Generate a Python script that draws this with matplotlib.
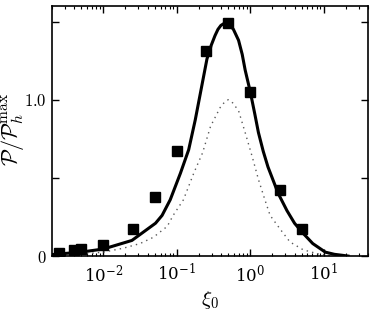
import numpy as np
import matplotlib
matplotlib.use("Agg")
import matplotlib.pyplot as plt
from matplotlib.ticker import FixedLocator, FixedFormatter, LogLocator, NullFormatter

plt.rcParams["mathtext.fontset"] = "cm"
plt.rcParams["font.family"] = "serif"
plt.rcParams["font.serif"] = ["DejaVu Serif"]

# measured points (squares)
xi_data = [0.0025, 0.004, 0.005, 0.01, 0.025, 0.05, 0.1, 0.25, 0.5, 1.0, 2.5, 5.0]
p_data = [0.02, 0.04, 0.045, 0.07, 0.17, 0.38, 0.67, 1.31, 1.49, 1.05, 0.42, 0.17]

# solid model curve
xi_full = [0.00204, 0.0049, 0.01, 0.0245, 0.0513, 0.063, 0.0813, 0.112, 0.145,
           0.178, 0.219, 0.257, 0.295, 0.331, 0.363, 0.398, 0.447, 0.501,
           0.589, 0.692, 0.776, 0.851, 1.0, 1.15, 1.29, 1.5,
           1.74, 2.40, 3.16, 4.0, 5.13, 7.08, 10.5, 14.0, 17.8, 21.4]
p_full = [0.010, 0.025, 0.045, 0.10, 0.21, 0.26, 0.36, 0.53, 0.68,
          0.87, 1.09, 1.26, 1.35, 1.41, 1.45, 1.475, 1.49, 1.49,
          1.45, 1.38, 1.29, 1.19, 1.05, 0.91, 0.79, 0.67,
          0.57, 0.40, 0.29, 0.21, 0.15, 0.08, 0.025, 0.011, 0.005, 0.0]

# dotted curve
xi_dot = [0.005, 0.01, 0.0186, 0.0316, 0.0479, 0.0741, 0.0891, 0.123, 0.170,
          0.224, 0.288, 0.389, 0.447, 0.501, 0.575, 0.692, 0.851, 1.07, 1.29,
          1.58, 1.86, 2.57, 3.47, 5.25, 8.51, 12.6]
p_dot = [0.012, 0.025, 0.05, 0.08, 0.12, 0.19, 0.26, 0.36, 0.53,
         0.66, 0.83, 0.95, 0.985, 1.00, 0.98, 0.93, 0.79, 0.63, 0.49,
         0.36, 0.26, 0.17, 0.09, 0.04, 0.013, 0.003]

fig = plt.figure(figsize=(3.74, 3.10), dpi=100)
ax = fig.add_axes([0.139, 0.174, 0.845, 0.807])

ax.plot(xi_dot, p_dot, color="0.35", lw=1.0, linestyle=(0, (1, 3)))
ax.plot(xi_full, p_full, color="black", lw=2.2)
ax.plot(xi_data, p_data, "s", color="black", markersize=7.5)

ax.set_xscale("log")
ax.set_xlim(2e-3, 40)
ax.set_ylim(0, 1.6)

ax.yaxis.set_major_locator(FixedLocator([0, 0.5, 1.0, 1.5]))
ax.yaxis.set_major_formatter(FixedFormatter(["$0$", "", "$1.0$", ""]))
ax.xaxis.set_major_locator(LogLocator(base=10, numticks=10))
ax.xaxis.set_minor_locator(LogLocator(base=10, subs=np.arange(2, 10), numticks=20))
ax.xaxis.set_minor_formatter(NullFormatter())

ax.tick_params(which="both", direction="in", top=True, right=True, labelsize=12)
ax.tick_params(which="major", length=5, width=1, pad=5)
ax.tick_params(which="minor", length=2.5, width=0.8)
ax.tick_params(axis="y", pad=4)
for s in ax.spines.values():
    s.set_linewidth(1.2)

ax.set_xlabel(r"$\xi_0$", fontsize=15, labelpad=3)
ax.set_ylabel(r"$\mathcal{P}/\mathcal{P}_h^{\mathrm{max}}$", fontsize=16)
ax.yaxis.set_label_coords(-0.082, 0.508)

fig.savefig("out.png", dpi=100)
